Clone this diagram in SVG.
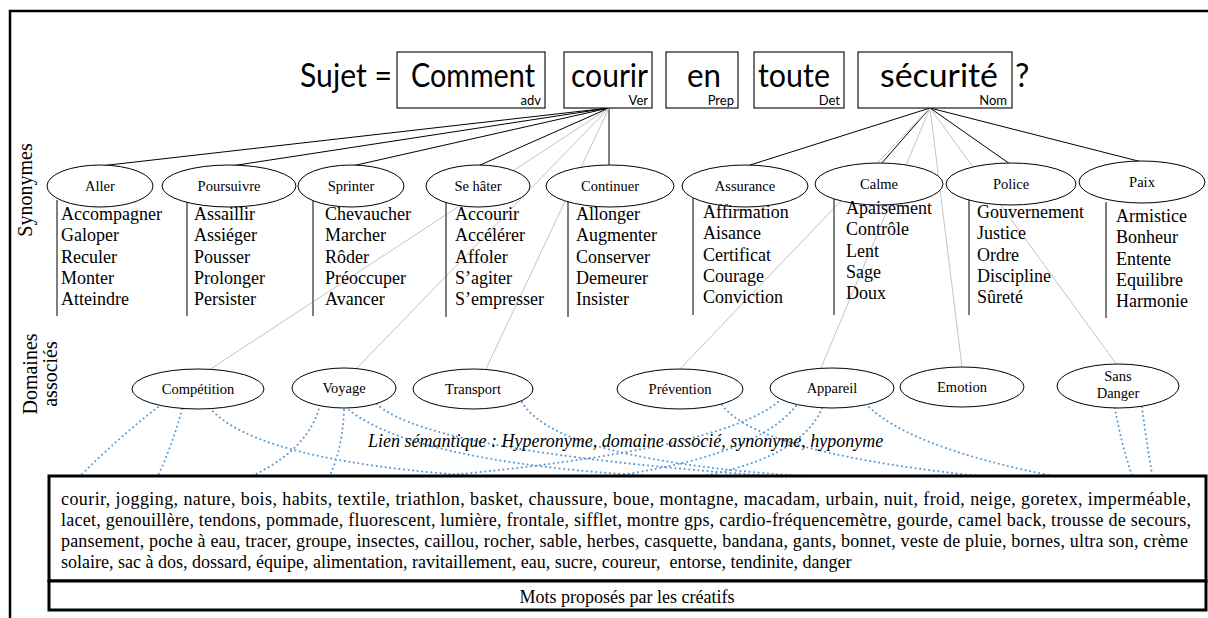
<svg xmlns="http://www.w3.org/2000/svg" width="1208" height="618" viewBox="0 0 1208 618">
<style>
.frame{fill:none;stroke:#000;stroke-width:2.5}
.tbox{fill:#fff;stroke:#000;stroke-width:1.1}
.big{font-family:Lato,"Open Sans","Liberation Sans",sans-serif;font-size:32px;fill:#000}
.tag{font-family:Lato,"Open Sans","Liberation Sans",sans-serif;font-size:13px;text-anchor:end;fill:#000}
.ell{fill:#fff;stroke:#000;stroke-width:1}
.serif{font-family:'Liberation Serif','Times New Roman',Tinos,'DejaVu Serif',serif}
.lbl{font-size:14.5px;text-anchor:middle;fill:#000}
.lst{font-size:18px;fill:#000}
.side{font-size:20px;text-anchor:middle;fill:#000}
.vl{stroke:#555;stroke-width:1.5}
.cb{stroke:#000;stroke-width:1;fill:none}
.cg{stroke:#c4c4c4;stroke-width:1;fill:none}
.dot{fill:none;stroke:#5b9bd5;stroke-width:2;stroke-dasharray:0.1 4.5;stroke-linecap:round}
.wbox{fill:#fff;stroke:#000;stroke-width:3}
.wtxt{font-size:18px;fill:#000}
</style>

<path class="frame" d="M10,618 V11 H1208"/>

<g class="serif">
<text class="side" transform="translate(32,190) rotate(-90)">Synonymes</text>
<text class="side" transform="translate(37,374) rotate(-90)">Domaines</text>
<text class="side" transform="translate(57,374) rotate(-90)">associés</text>
</g>

<g id="connectors">
  <line class="cb" x1="609" y1="108" x2="100" y2="166"/>
  <line class="cb" x1="609" y1="108" x2="231" y2="166"/>
  <line class="cb" x1="609" y1="108" x2="352" y2="166"/>
  <line class="cb" x1="609" y1="108" x2="478" y2="166"/>
  <line class="cb" x1="609" y1="108" x2="609" y2="166"/>
  <line class="cb" x1="930" y1="108" x2="747" y2="166"/>
  <line class="cb" x1="930" y1="108" x2="881" y2="164"/>
  <line class="cb" x1="930" y1="108" x2="1010" y2="164"/>
  <line class="cb" x1="930" y1="108" x2="1142" y2="162"/>
  <line class="cg" x1="609" y1="108" x2="209" y2="370"/>
  <line class="cg" x1="609" y1="108" x2="356" y2="369"/>
  <line class="cg" x1="609" y1="108" x2="486" y2="369"/>
  <line class="cg" x1="930" y1="108" x2="679" y2="370"/>
  <line class="cg" x1="930" y1="108" x2="821" y2="368"/>
  <line class="cg" x1="930" y1="108" x2="962" y2="367"/>
  <line class="cg" x1="930" y1="108" x2="1117" y2="365"/>
  <line class="vl" x1="57" y1="200" x2="57" y2="316"/>
  <line class="vl" x1="187" y1="200" x2="187" y2="316"/>
  <line class="vl" x1="313" y1="200" x2="313" y2="316"/>
  <line class="vl" x1="446" y1="200" x2="446" y2="317"/>
  <line class="vl" x1="568" y1="200" x2="568" y2="317"/>
  <line class="vl" x1="693" y1="198" x2="693" y2="315"/>
  <line class="vl" x1="834" y1="198" x2="834" y2="315"/>
  <line class="vl" x1="969" y1="198" x2="969" y2="315"/>
  <line class="vl" x1="1106" y1="202" x2="1106" y2="318"/>
</g>

<g id="title">
  <text class="big" x="300" y="87" textLength="92" lengthAdjust="spacingAndGlyphs">Sujet =</text>
  <rect class="tbox" x="397" y="52" width="148" height="56"/>
  <text class="big" x="411" y="87" textLength="124" lengthAdjust="spacingAndGlyphs">Comment</text>
  <text class="tag" x="541" y="105">adv</text>
  <rect class="tbox" x="564" y="52" width="88" height="56"/>
  <text class="big" x="571" y="87" textLength="77" lengthAdjust="spacingAndGlyphs">courir</text>
  <text class="tag" x="648" y="105">Ver</text>
  <rect class="tbox" x="666" y="52" width="72" height="56"/>
  <text class="big" x="687" y="87" textLength="34" lengthAdjust="spacingAndGlyphs">en</text>
  <text class="tag" x="734" y="105">Prep</text>
  <rect class="tbox" x="754" y="52" width="90" height="56"/>
  <text class="big" x="758" y="87" textLength="72" lengthAdjust="spacingAndGlyphs">toute</text>
  <text class="tag" x="840" y="105">Det</text>
  <rect class="tbox" x="858" y="52" width="154" height="56"/>
  <text class="big" x="880" y="87" textLength="118" lengthAdjust="spacingAndGlyphs">sécurité</text>
  <text class="tag" x="1007" y="105">Nom</text>
  <text class="big" x="1015" y="87">?</text>
</g>

<g class="serif">
<g id="syn-aller"><ellipse class="ell" cx="100" cy="186" rx="53" ry="21"/><text class="lbl" x="100" y="191">Aller</text>
<text class="lst" x="61" y="220"><tspan x="61">Accompagner</tspan><tspan x="61" dy="21.3">Galoper</tspan><tspan x="61" dy="21.3">Reculer</tspan><tspan x="61" dy="21.3">Monter</tspan><tspan x="61" dy="21.3">Atteindre</tspan></text></g>
<g id="syn-poursuivre"><ellipse class="ell" cx="229" cy="186" rx="67" ry="21"/><text class="lbl" x="229" y="191">Poursuivre</text>
<text class="lst" x="194" y="220"><tspan x="194">Assaillir</tspan><tspan x="194" dy="21.3">Assiéger</tspan><tspan x="194" dy="21.3">Pousser</tspan><tspan x="194" dy="21.3">Prolonger</tspan><tspan x="194" dy="21.3">Persister</tspan></text></g>
<g id="syn-sprinter"><ellipse class="ell" cx="351" cy="186" rx="53" ry="21"/><text class="lbl" x="351" y="191">Sprinter</text>
<text class="lst" x="325" y="220"><tspan x="325">Chevaucher</tspan><tspan x="325" dy="21.3">Marcher</tspan><tspan x="325" dy="21.3">Rôder</tspan><tspan x="325" dy="21.3">Préoccuper</tspan><tspan x="325" dy="21.3">Avancer</tspan></text></g>
<g id="syn-sehater"><ellipse class="ell" cx="478" cy="186" rx="52" ry="21"/><text class="lbl" x="478" y="191">Se hâter</text>
<text class="lst" x="455" y="220"><tspan x="455">Accourir</tspan><tspan x="455" dy="21.3">Accélérer</tspan><tspan x="455" dy="21.3">Affoler</tspan><tspan x="455" dy="21.3">S’agiter</tspan><tspan x="455" dy="21.3">S’empresser</tspan></text></g>
<g id="syn-continuer"><ellipse class="ell" cx="610" cy="186" rx="64" ry="21"/><text class="lbl" x="610" y="191">Continuer</text>
<text class="lst" x="576" y="220"><tspan x="576">Allonger</tspan><tspan x="576" dy="21.3">Augmenter</tspan><tspan x="576" dy="21.3">Conserver</tspan><tspan x="576" dy="21.3">Demeurer</tspan><tspan x="576" dy="21.3">Insister</tspan></text></g>
<g id="syn-assurance"><ellipse class="ell" cx="745" cy="186" rx="63" ry="21"/><text class="lbl" x="745" y="191">Assurance</text>
<text class="lst" x="703" y="218"><tspan x="703">Affirmation</tspan><tspan x="703" dy="21.3">Aisance</tspan><tspan x="703" dy="21.3">Certificat</tspan><tspan x="703" dy="21.3">Courage</tspan><tspan x="703" dy="21.3">Conviction</tspan></text></g>
<g id="syn-calme"><ellipse class="ell" cx="879" cy="184" rx="64" ry="21"/><text class="lbl" x="879" y="189">Calme</text>
<text class="lst" x="846" y="214"><tspan x="846">Apaisement</tspan><tspan x="846" dy="21.3">Contrôle</tspan><tspan x="846" dy="21.3">Lent</tspan><tspan x="846" dy="21.3">Sage</tspan><tspan x="846" dy="21.3">Doux</tspan></text></g>
<g id="syn-police"><ellipse class="ell" cx="1011" cy="184" rx="65" ry="21"/><text class="lbl" x="1011" y="189">Police</text>
<text class="lst" x="977" y="218"><tspan x="977">Gouvernement</tspan><tspan x="977" dy="21.3">Justice</tspan><tspan x="977" dy="21.3">Ordre</tspan><tspan x="977" dy="21.3">Discipline</tspan><tspan x="977" dy="21.3">Sûreté</tspan></text></g>
<g id="syn-paix"><ellipse class="ell" cx="1142" cy="182" rx="63" ry="21"/><text class="lbl" x="1142" y="187">Paix</text>
<text class="lst" x="1116" y="222"><tspan x="1116">Armistice</tspan><tspan x="1116" dy="21.3">Bonheur</tspan><tspan x="1116" dy="21.3">Entente</tspan><tspan x="1116" dy="21.3">Equilibre</tspan><tspan x="1116" dy="21.3">Harmonie</tspan></text></g>
</g>

<g id="dotted-links">
  <path class="dot" d="M158,407 Q118,438 78,478"/>
  <path class="dot" d="M182,409 Q172,448 152,488"/>
  <path class="dot" d="M210,408 Q270,478 640,482"/>
  <path class="dot" d="M320,405 Q305,465 205,493"/>
  <path class="dot" d="M344,410 Q342,462 320,492"/>
  <path class="dot" d="M349,410 Q420,466 690,478"/>
  <path class="dot" d="M377,404 Q430,455 830,480"/>
  <path class="dot" d="M522,402 Q560,468 880,480"/>
  <path class="dot" d="M722,405 Q760,455 1000,478"/>
  <path class="dot" d="M778,402 Q720,450 440,476"/>
  <path class="dot" d="M796,406 Q750,462 580,480"/>
  <path class="dot" d="M822,408 Q800,462 680,480"/>
  <path class="dot" d="M866,404 Q920,460 1150,492"/>
  <path class="dot" d="M1115,408 Q1122,450 1138,492"/>
  <path class="dot" d="M1142,407 Q1150,470 1166,548"/>
</g>

<g class="serif">
<g id="dom-competition"><ellipse class="ell" cx="198" cy="389" rx="66" ry="20"/><text class="lbl" x="198" y="394">Compétition</text></g>
<g id="dom-voyage"><ellipse class="ell" cx="344" cy="388" rx="52" ry="20"/><text class="lbl" x="344" y="393">Voyage</text></g>
<g id="dom-transport"><ellipse class="ell" cx="473" cy="389" rx="60" ry="20"/><text class="lbl" x="473" y="394">Transport</text></g>
<g id="dom-prevention"><ellipse class="ell" cx="680" cy="389" rx="63" ry="20"/><text class="lbl" x="680" y="394">Prévention</text></g>
<g id="dom-appareil"><ellipse class="ell" cx="832" cy="388" rx="62" ry="20"/><text class="lbl" x="832" y="393">Appareil</text></g>
<g id="dom-emotion"><ellipse class="ell" cx="962" cy="387" rx="62" ry="20"/><text class="lbl" x="962" y="392">Emotion</text></g>
<g id="dom-sansdanger"><ellipse class="ell" cx="1118" cy="386" rx="61" ry="22"/><text class="lbl" x="1118" y="381">Sans</text><text class="lbl" x="1118" y="398">Danger</text></g>

<text class="wtxt" x="368" y="447" font-style="italic" font-size="18.5">Lien sémantique : Hyperonyme, domaine associé, synonyme, hyponyme</text>

<g id="words">
  <rect class="wbox" x="49" y="476" width="1157" height="105"/>
  <text class="wtxt" x="61" y="505" textLength="1130" lengthAdjust="spacing">courir, jogging, nature, bois, habits, textile, triathlon, basket, chaussure, boue, montagne, macadam, urbain, nuit, froid, neige, goretex, imperméable,</text>
  <text class="wtxt" x="61" y="526" textLength="1130" lengthAdjust="spacing">lacet, genouillère, tendons, pommade, fluorescent, lumière, frontale, sifflet, montre gps, cardio-fréquencemètre, gourde, camel back, trousse de secours,</text>
  <text class="wtxt" x="61" y="547" textLength="1127" lengthAdjust="spacing">pansement, poche à eau, tracer, groupe, insectes, caillou, rocher, sable, herbes, casquette, bandana, gants, bonnet, veste de pluie, bornes, ultra son, crème</text>
  <text class="wtxt" x="61" y="568" xml:space="preserve">solaire, sac à dos, dossard, équipe, alimentation, ravitaillement, eau, sucre, coureur,  entorse, tendinite, danger</text>
</g>
<g id="creatifs">
  <rect class="wbox" x="49" y="581" width="1157" height="29"/>
  <text class="wtxt" x="627" y="603" font-size="20" text-anchor="middle">Mots proposés par les créatifs</text>
</g>
</g>
</svg>
